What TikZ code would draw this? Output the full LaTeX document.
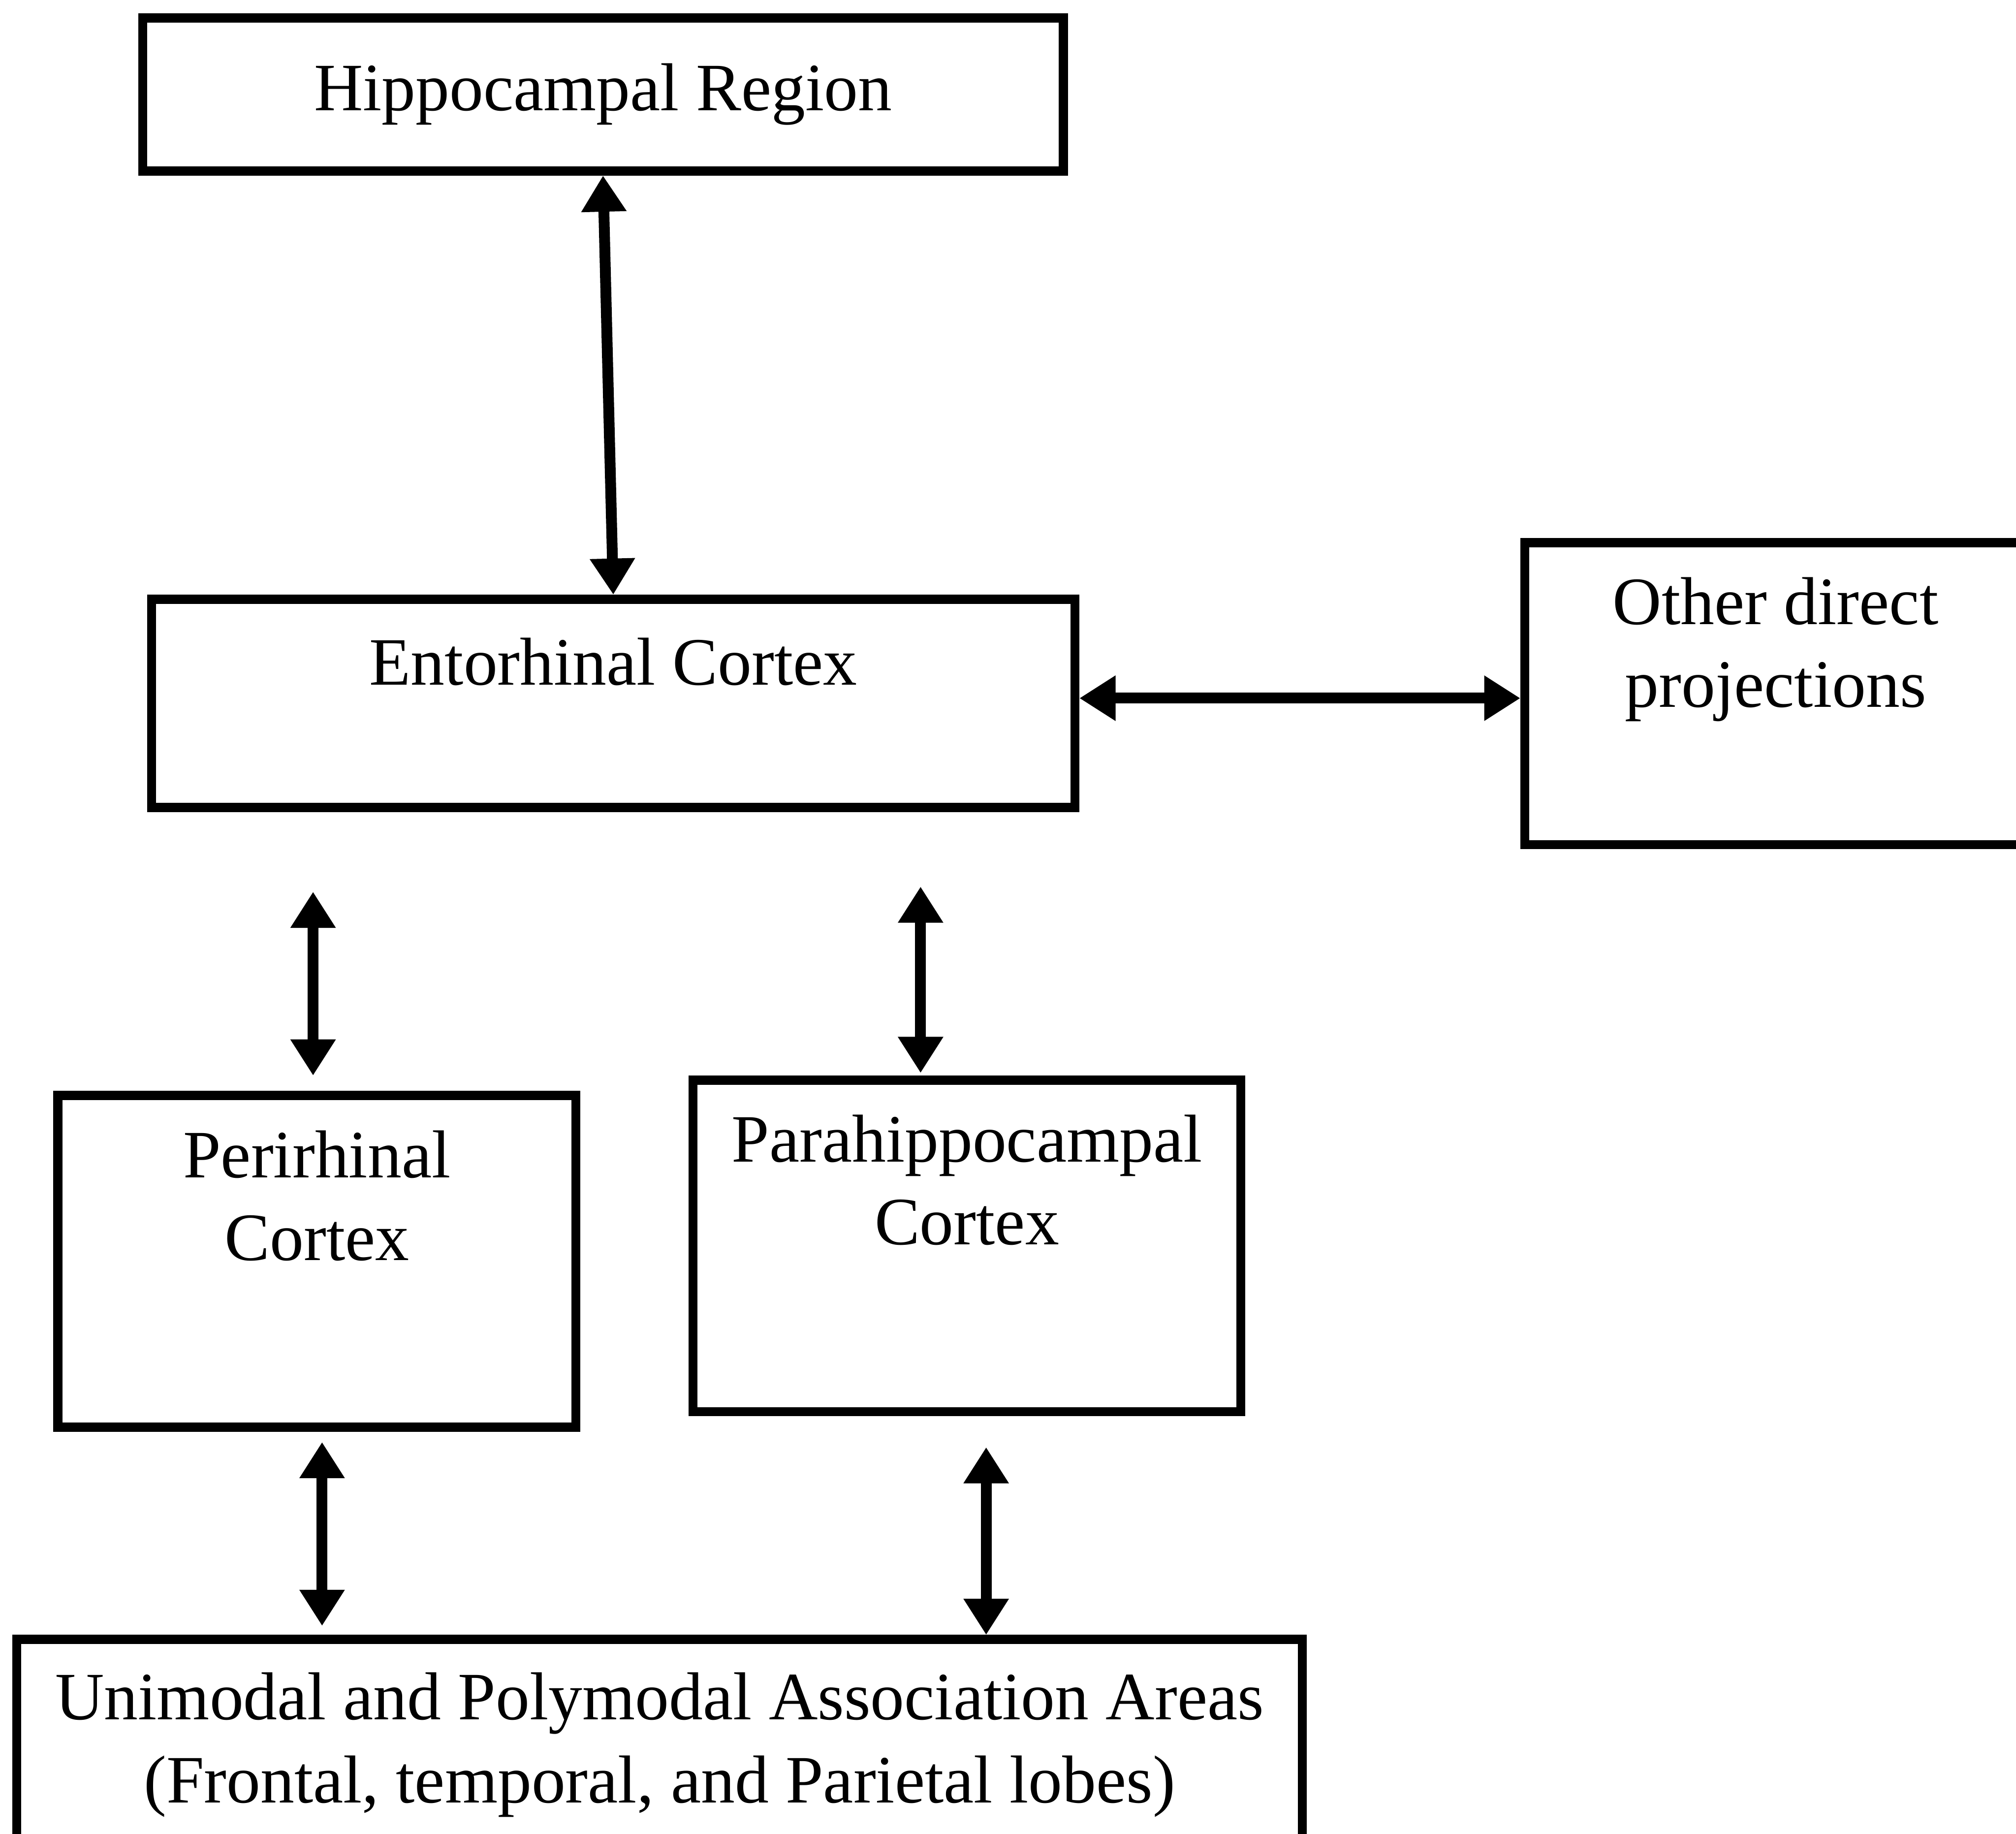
\documentclass[tikz,border=0pt]{standalone}
\usepackage{fontspec}
\setmainfont{Liberation Serif}
\usetikzlibrary{arrows.meta}

\begin{document}
\begin{tikzpicture}[
    box/.style={draw, line width=2pt, inner sep=0pt, align=center, font=\fontsize{15}{18.3}\selectfont},
    boxtext/.style={anchor=north, inner sep=3mm, align=center, font=\fontsize{15}{18.3}\selectfont},
    biarrow/.style={{Triangle[width=9.5pt,length=8pt]}-{Triangle[width=9.5pt,length=8pt]}, line width=2.4pt}
  ]
  \clip (0,0) rectangle (15.68,-14.26);
  \fill[white] (0,0) rectangle (15.68,-14.26);

  \node[box, minimum width=7.16cm, minimum height=1.19cm] (hippo) at (4.69,-0.735) {Hippocampal Region};
  \node[box, minimum width=7.18cm, minimum height=1.62cm,
        label={[boxtext, inner sep=3.3mm]north:Entorhinal Cortex}] (ento) at (4.77,-5.47) {};
  \node[box, minimum width=3.9cm, minimum height=2.35cm,
        label={[boxtext]north:Other direct\\projections}] (other) at (13.81,-5.395) {};
  \node[box, minimum width=4.03cm, minimum height=2.58cm,
        label={[boxtext]north:Perirhinal\\Cortex}] (peri) at (2.465,-9.81) {};
  \node[box, minimum width=4.26cm, minimum height=2.58cm,
        label={[boxtext]north:Parahippocampal\\Cortex}] (para) at (7.52,-9.69) {};
  \node[box, minimum width=10cm, minimum height=1.64cm] (assoc) at (5.13,-13.57)
    {Unimodal and Polymodal Association Areas\\(Frontal, temporal, and Parietal lobes)};

  \draw[biarrow] (hippo.south) -- (ento.north);
  \draw[biarrow] ([yshift=0.4mm]ento.east) -- ([yshift=0.4mm]ento.east -| other.west);
  \draw[biarrow] ([xshift=-0.3mm,yshift=-6.2mm]ento.south -| peri.north) -- ([xshift=-0.3mm,yshift=1.2mm]peri.north);
  \draw[biarrow] ([xshift=-3.6mm,yshift=-5.8mm]ento.south -| para.north) -- ([xshift=-3.6mm,yshift=0.2mm]para.north);
  \draw[biarrow] ([xshift=0.4mm,yshift=-0.8mm]peri.south) -- ([xshift=0.4mm,yshift=0.7mm]assoc.north -| peri.south);
  \draw[biarrow] ([xshift=1.5mm,yshift=-2.4mm]para.south) -- ([xshift=1.5mm]assoc.north -| para.south);
\end{tikzpicture}
\end{document}
